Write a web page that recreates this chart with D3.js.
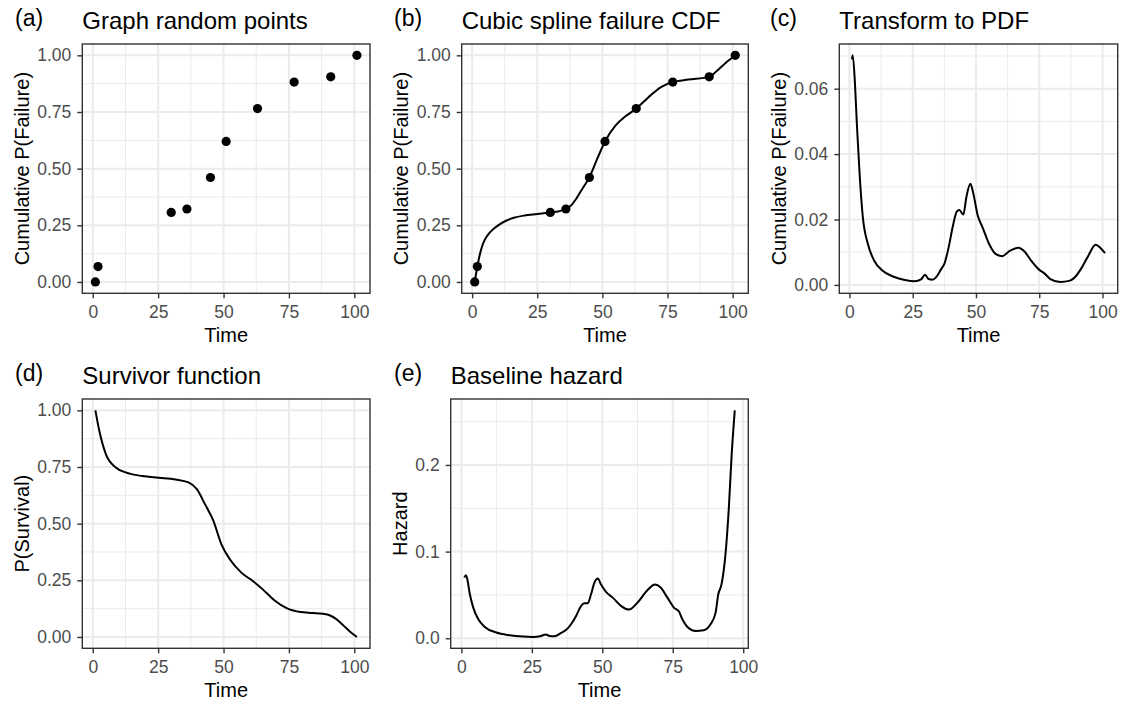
<!DOCTYPE html>
<html>
<head>
<meta charset="utf-8">
<script src="https://cdn.jsdelivr.net/npm/d3@7"></script>
<style>
body { margin: 0; background: #fff; }
text { font-family: "Liberation Sans", Arial, Helvetica, sans-serif; }
</style>
</head>
<body>
<script>
// random points (panel a, and knots in b)
var pointTime = [1, 2, 30, 36, 45, 51, 63, 77, 91, 101];
var pointFail = [0, 0.068, 0.307, 0.322, 0.461, 0.620, 0.765, 0.882, 0.905, 1.0];

// spline CDF
var cdfTime = [1, 2, 3, 4, 5, 6.5, 8, 10, 13, 16, 20, 25, 30, 33, 36, 38, 40, 42.5, 45, 48, 51, 55, 59, 63, 67.5, 72.5, 77, 83, 91, 94, 97.5, 101];
var cdfFail = [0, 0.068, 0.123, 0.163, 0.189, 0.214, 0.232, 0.250, 0.270, 0.283, 0.293, 0.300, 0.307, 0.311, 0.322, 0.338, 0.368, 0.415, 0.461, 0.543, 0.620, 0.690, 0.732, 0.765, 0.813, 0.860, 0.882, 0.893, 0.905, 0.932, 0.968, 1.0];

// PDF
var pdfTime = [1, 1.3, 2.2, 3, 4.1, 5.3, 7.3, 9.8, 13, 17.5, 21.9, 25.8, 28.3, 29.9, 31.3, 32.8, 34.7, 36.3, 37.5, 39.2, 40.9, 42.4, 43.4, 45, 46.2, 47.8, 49, 50.7, 52.6, 55.2, 57.7, 60.3, 63.5, 66.7, 69.2, 71.8, 75, 76.9, 79.4, 83.3, 87.1, 89.6, 91.5, 94.1, 97.3, 99.2, 101];
var pdfVal = [0.0690, 0.0702, 0.0614, 0.0482, 0.0329, 0.0207, 0.0125, 0.0074, 0.0044, 0.0025, 0.0015, 0.0011, 0.0017, 0.0031, 0.0018, 0.0016, 0.0028, 0.0049, 0.0064, 0.0115, 0.0181, 0.0224, 0.0229, 0.0215, 0.0268, 0.0309, 0.0278, 0.0212, 0.0176, 0.0125, 0.0095, 0.0088, 0.0105, 0.0114, 0.0102, 0.0074, 0.0046, 0.0036, 0.0018, 0.0009, 0.0013, 0.0028, 0.0049, 0.0085, 0.0123, 0.0113, 0.0097];

// survivor function
var survTime = [1, 2.5, 5, 8.8, 12.6, 18.9, 25.2, 31.6, 36.6, 39.8, 42.9, 46.1, 49.2, 52.4, 56.8, 61.2, 65, 69.4, 74.5, 79.5, 84, 88, 90.5, 93, 96, 98.5, 101];
var survVal = [1, 0.910, 0.807, 0.748, 0.726, 0.710, 0.7025, 0.695, 0.682, 0.652, 0.586, 0.513, 0.409, 0.343, 0.284, 0.247, 0.210, 0.162, 0.125, 0.110, 0.106, 0.102, 0.096, 0.080, 0.049, 0.022, 0];

// baseline hazard
var hazTime = [1.0, 1.6, 2.1, 3.0, 4.2, 6.0, 8.3, 12.4, 17.1, 21.8, 25.4, 28.3, 29.9, 31.3, 33.0, 35.4, 37.2, 38.9, 40.7, 42.5, 43.6, 44.8, 46.0, 47.2, 48.4, 49.5, 51.3, 53.7, 56.6, 59.5, 62.5, 66.0, 68.7, 70.7, 73.1, 75.4, 77.2, 78.4, 80.2, 83.1, 86.0, 88.4, 90.2, 91.1, 92.3, 93.7, 94.9, 95.9, 97];
var hazVal = [0.070, 0.0727, 0.068, 0.0508, 0.0354, 0.0219, 0.0131, 0.0066, 0.0035, 0.0019, 0.0015, 0.0027, 0.0043, 0.0027, 0.0023, 0.0062, 0.0097, 0.0162, 0.0258, 0.0374, 0.0404, 0.0404, 0.0508, 0.0642, 0.0689, 0.0623, 0.0535, 0.0469, 0.0374, 0.0331, 0.0412, 0.0554, 0.0619, 0.0585, 0.0469, 0.0354, 0.0308, 0.0219, 0.0131, 0.0085, 0.0093, 0.0162, 0.0296, 0.0500, 0.0623, 0.0969, 0.1507, 0.2122, 0.263];

var timeTicks = [0, 25, 50, 75, 100];
var probTicks = [0, 0.25, 0.5, 0.75, 1];
var pdfTicks = [0, 0.02, 0.04, 0.06];
var hazTicks = [0, 0.1, 0.2];

var w = 1130, h = 702;

var svg = d3.select("body").append("svg")
    .attr("width", w)
    .attr("height", h);

// ggplot style 5% expansion
function expand(ext) {
    var pad = (ext[1] - ext[0]) * 0.05;
    return [ext[0] - pad, ext[1] + pad];
}

function minorOf(ticks, dom) {
    var step = ticks[1] - ticks[0];
    var out = [];
    ticks.forEach(function (t) {
        [t - step / 2, t + step / 2].forEach(function (m) {
            if (m >= dom[0] && m <= dom[1] && out.indexOf(+m.toFixed(6)) < 0) out.push(+m.toFixed(6));
        });
    });
    return out;
}

var panels = [
    {tag: "(a)", title: "Graph random points", ylab: "Cumulative P(Failure)",
     left: 82.3, right: 370, top: 44, bottom: 293.3,
     xs: pointTime, ys: pointFail, pts: [pointTime, pointFail], line: null,
     yTicks: probTicks, fmt: d3.format(".2f"), tagX: 15},
    {tag: "(b)", title: "Cubic spline failure CDF", ylab: "Cumulative P(Failure)",
     left: 461.7, right: 748.3, top: 44, bottom: 293.3,
     xs: pointTime, ys: pointFail, pts: [pointTime, pointFail], line: [cdfTime, cdfFail],
     yTicks: probTicks, fmt: d3.format(".2f"), tagX: 394},
    {tag: "(c)", title: "Transform to PDF", ylab: "Cumulative P(Failure)",
     left: 839.3, right: 1117.7, top: 44, bottom: 293.3,
     xs: pdfTime, ys: pdfVal, pts: null, line: [pdfTime, pdfVal],
     yTicks: pdfTicks, fmt: d3.format(".2f"), tagX: 770},
    {tag: "(d)", title: "Survivor function", ylab: "P(Survival)",
     left: 82.3, right: 370, top: 399, bottom: 648.3,
     xs: survTime, ys: survVal, pts: null, line: [survTime, survVal],
     yTicks: probTicks, fmt: d3.format(".2f"), tagX: 15},
    {tag: "(e)", title: "Baseline hazard", ylab: "Hazard",
     left: 450.7, right: 748.3, top: 399, bottom: 648.3,
     xs: hazTime, ys: hazVal, pts: null, line: [hazTime, hazVal],
     yTicks: hazTicks, fmt: d3.format(".1f"), tagX: 394}
];

panels.forEach(function (p) {
    var xDom = expand(d3.extent(p.xs));
    var yDom = expand(d3.extent(p.ys));
    var x = d3.scaleLinear().domain(xDom).range([p.left, p.right]);
    var y = d3.scaleLinear().domain(yDom).range([p.bottom, p.top]);
    var g = svg.append("g");

    // panel background + grid
    g.append("rect")
        .attr("x", p.left).attr("y", p.top)
        .attr("width", p.right - p.left).attr("height", p.bottom - p.top)
        .attr("fill", "white");

    var xMinor = minorOf(timeTicks, xDom), yMinor = minorOf(p.yTicks, yDom);
    g.selectAll(".vminor").data(xMinor).enter().append("line")
        .attr("x1", d => x(d)).attr("x2", d => x(d))
        .attr("y1", p.top).attr("y2", p.bottom)
        .attr("stroke", "#EBEBEB").attr("stroke-width", 1);
    g.selectAll(".hminor").data(yMinor).enter().append("line")
        .attr("x1", p.left).attr("x2", p.right)
        .attr("y1", d => y(d)).attr("y2", d => y(d))
        .attr("stroke", "#EBEBEB").attr("stroke-width", 1);
    g.selectAll(".vmajor").data(timeTicks).enter().append("line")
        .attr("x1", d => x(d)).attr("x2", d => x(d))
        .attr("y1", p.top).attr("y2", p.bottom)
        .attr("stroke", "#EBEBEB").attr("stroke-width", 2);
    g.selectAll(".hmajor").data(p.yTicks).enter().append("line")
        .attr("x1", p.left).attr("x2", p.right)
        .attr("y1", d => y(d)).attr("y2", d => y(d))
        .attr("stroke", "#EBEBEB").attr("stroke-width", 2);

    // data
    if (p.line) {
        var lineData = p.line[0].map((t, i) => [t, p.line[1][i]]);
        g.append("path")
            .datum(lineData)
            .attr("fill", "none")
            .attr("stroke", "black")
            .attr("stroke-width", 2)
            .attr("stroke-linejoin", "round")
            .attr("d", d3.line().x(d => x(d[0])).y(d => y(d[1])).curve(d3.curveMonotoneX));
    }
    if (p.pts) {
        g.selectAll("circle")
            .data(p.pts[0].map((t, i) => [t, p.pts[1][i]]))
            .enter().append("circle")
            .attr("cx", d => x(d[0]))
            .attr("cy", d => y(d[1]))
            .attr("r", 4.6)
            .attr("fill", "black");
    }

    // border
    g.append("rect")
        .attr("x", p.left).attr("y", p.top)
        .attr("width", p.right - p.left).attr("height", p.bottom - p.top)
        .attr("fill", "none").attr("stroke", "#333333").attr("stroke-width", 1.4);

    // axes
    var xAxis = g.append("g")
        .attr("transform", "translate(0," + p.bottom + ")")
        .call(d3.axisBottom(x).tickValues(timeTicks).tickSize(5).tickPadding(7).tickFormat(d3.format("d")));
    var yAxis = g.append("g")
        .attr("transform", "translate(" + p.left + ",0)")
        .call(d3.axisLeft(y).tickValues(p.yTicks).tickSize(5).tickPadding(6).tickFormat(p.fmt));
    [xAxis, yAxis].forEach(function (a) {
        a.select(".domain").remove();
        a.selectAll("line").attr("stroke", "#333333").attr("stroke-width", 1.4);
        a.selectAll("text")
            .attr("fill", "#4D4D4D")
            .style("font-size", "17.5px")
            .style("font-family", "'Liberation Sans', Arial, sans-serif");
    });

    var maxW = d3.max(yAxis.selectAll("text").nodes(), n => n.getComputedTextLength());

    // axis titles
    g.append("text")
        .attr("x", (p.left + p.right) / 2)
        .attr("y", p.bottom + 48.4)
        .attr("text-anchor", "middle")
        .style("font-size", "20px")
        .text("Time");
    var ylx = p.left - 11 - maxW - 8.5;
    g.append("text")
        .attr("transform", "translate(" + ylx + "," + ((p.top + p.bottom) / 2) + ") rotate(-90)")
        .attr("text-anchor", "middle")
        .style("font-size", "20px")
        .text(p.ylab);

    // title and tag
    g.append("text")
        .attr("x", p.left)
        .attr("y", p.top - 15)
        .style("font-size", "24px")
        .text(p.title);
    g.append("text")
        .attr("x", p.tagX)
        .attr("y", p.top - 18)
        .style("font-size", "23px")
        .text(p.tag);
});
</script>
</body>
</html>
